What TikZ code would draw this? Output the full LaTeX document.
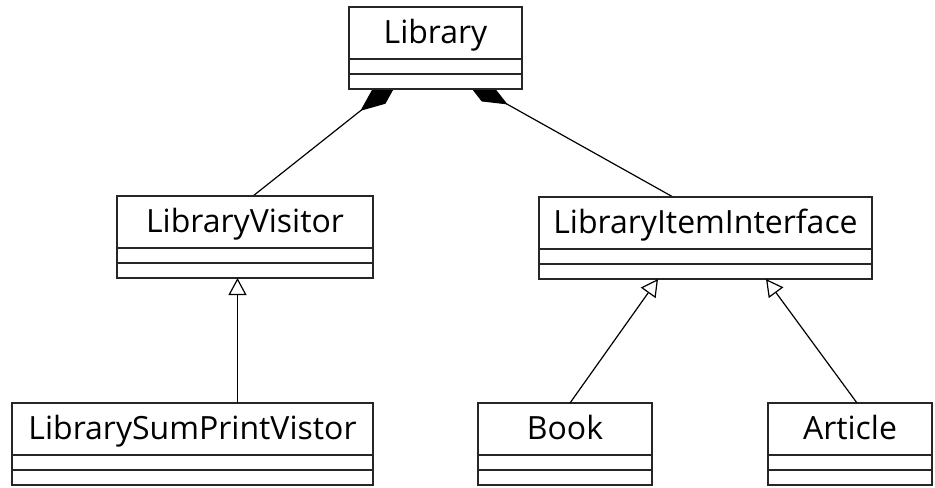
\documentclass[tikz,border=0pt]{standalone}
\usepackage{fontspec}
\setmainfont{Open Sans}
\usetikzlibrary{arrows.meta, positioning, backgrounds}

\begin{document}
\begin{tikzpicture}[
        x=0.5pt, y=-0.5pt,
        umlclass/.style={rectangle, draw=black!85, fill=white, line width=0.75pt, inner xsep=0pt, inner ysep=0pt, outer sep=0pt,
            text height=18pt, text depth=23pt, font=\fontsize{16}{19}\selectfont,
            path picture={
                \draw[black!85, line width=0.75pt] ([yshift=-26pt]path picture bounding box.north west) -- ([yshift=-26pt]path picture bounding box.north east);
                \draw[black!85, line width=0.75pt] ([yshift=-33.5pt]path picture bounding box.north west) -- ([yshift=-33.5pt]path picture bounding box.north east);
            }},
        comp/.style={line width=0.6pt, -{Diamond[length=24pt, width=10pt]}},
        gen/.style={line width=0.6pt, -{Triangle[open, length=8.5pt, width=9pt]}}
    ]
        \useasboundingbox (0,0) rectangle (935,487);

        % Top class
        \node[umlclass, minimum width=86.5pt, anchor=north] (lib) at (435.5,7) {Library};

        % Middle row
        \node[umlclass, minimum width=128pt, below=53.5pt of lib, xshift=-95.25pt] (visitor) {LibraryVisitor};
        \node[umlclass, minimum width=166.5pt, below=54pt of lib, xshift=135pt] (item) {LibraryItemInterface};

        % Bottom row
        \node[umlclass, minimum width=180.5pt, below=62.5pt of visitor, xshift=-26.25pt] (sumprint) {LibrarySumPrintVistor};
        \node[umlclass, minimum width=87pt, below=62pt of item, xshift=-70.25pt] (book) {Book};
        \node[umlclass, minimum width=82pt, right=58pt of book] (article) {Article};

        % Arrows (diamonds tucked under the Library box)
        \begin{scope}[on background layer]
            \draw[comp] ([xshift=4pt]visitor.north) -- ([xshift=-18.75pt, yshift=4pt]lib.south);
            \draw[comp] ([xshift=-16.25pt]item.north) -- ([xshift=15.1pt, yshift=4pt]lib.south);
        \end{scope}
        \draw[gen] ([xshift=22.5pt]sumprint.north) -- ([xshift=-3.75pt]visitor.south);
        \draw[gen] ([xshift=2.5pt]book.north) -- ([xshift=-23.75pt]item.south);
        \draw[gen] ([xshift=3.5pt]article.north) -- ([xshift=30.25pt]item.south);
    \end{tikzpicture}
\end{document}
